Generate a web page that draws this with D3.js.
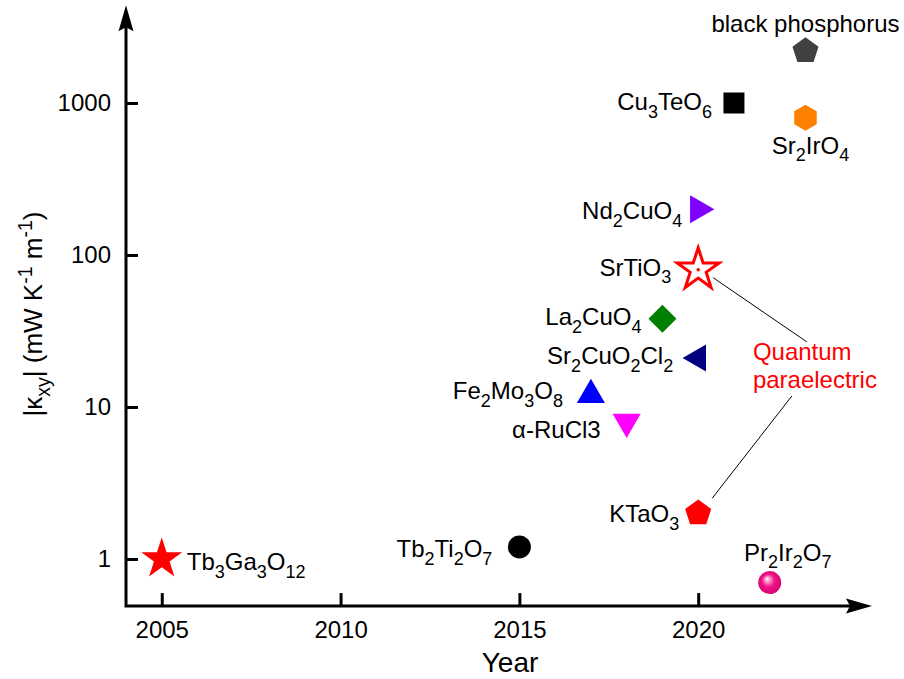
<!DOCTYPE html>
<html><head><meta charset="utf-8">
<script src="https://cdn.jsdelivr.net/npm/d3@7"></script>
<style>body{margin:0;background:#fff} svg{display:block}</style>
</head><body><svg id="c" width="904" height="679"></svg>
<script>
// ---- data ----
const materials = ["Tb_{3}Ga_{3}O_{12}", "Tb_{2}Ti_{2}O_{7}", "Pr_{2}Ir_{2}O_{7}", "KTaO_{3}", "α-RuCl3",
  "Fe_{2}Mo_{3}O_{8}", "Sr_{2}CuO_{2}Cl_{2}", "La_{2}CuO_{4}", "SrTiO_{3}", "Nd_{2}CuO_{4}",
  "Cu_{3}TeO_{6}", "Sr_{2}IrO_{4}", "black phosphorus"];
const years = [2005, 2015, 2022, 2020, 2018, 2017, 2020, 2019, 2020, 2020, 2021, 2023, 2023];
const kxy   = [1.0, 1.2, 0.7, 2.0, 8, 12, 21, 38, 80, 200, 1000, 800, 2200];
const xTicks = [2005, 2010, 2015, 2020];
const yTicks = [1, 10, 100, 1000];
const xTitle = "Year";
const yTitle = "|κ_{xy}| (mW K^{-1} m^{-1})";
const annotation = ["Quantum", "paraelectric"];

// ---- styles ----
const markerStyle = [
  {shape:"star", r:21.5, fill:"#ff0000"},
  {shape:"circle", r:11.5, fill:"#000000"},
  {shape:"sphere", r:11.5, fill:"url(#sphereGrad)"},
  {shape:"pentagon", r:13.7, fill:"#ff0000"},
  {shape:"triDown", r:16.2, fill:"#ff00ff"},
  {shape:"triUp", r:16.2, fill:"#0000ff"},
  {shape:"triLeft", r:15.6, fill:"#000080"},
  {shape:"diamond", r:14, fill:"#008000"},
  {shape:"star", r:22, fill:"#ffffff", stroke:"#ff0000", sw:3, dot:true},
  {shape:"triRight", r:16.2, fill:"#8000ff"},
  {shape:"square", r:10.5, fill:"#000000"},
  {shape:"hexagon", r:13, fill:"#ff8000"},
  {shape:"pentagon", r:13.7, fill:"#404040"}
];
const labelLayout = [
  {anchor:"start", dx:25, dy:11},
  {anchor:"end", dx:-27, dy:10},
  {anchor:"middle", dx:18, dy:-22},
  {anchor:"end", dx:-19, dy:9},
  {anchor:"end", dx:-26, dy:16},
  {anchor:"end", dx:-28, dy:4},
  {anchor:"end", dx:-25, dy:6},
  {anchor:"end", dx:-21, dy:6},
  {anchor:"end", dx:-27, dy:6},
  {anchor:"end", dx:-16, dy:10},
  {anchor:"end", dx:-22, dy:7},
  {anchor:"middle", dx:5, dy:36},
  {anchor:"middle", dx:0, dy:-19}
];

const FONT = "'Liberation Sans', Arial, sans-serif";
const svg = d3.select("#c");
const x = d3.scaleLinear().domain([2004, 2025]).range([126, 877]);
const y = d3.scaleLog().domain([1, 1000]).range([559, 103]);
const xMin = 2004, xMax = 2024.86, yMin = 0.49, yMax = 4400;

const defs = svg.append("defs");
const rg = defs.append("radialGradient").attr("id","sphereGrad")
  .attr("cx","0.5").attr("cy","0.5").attr("r","0.55").attr("fx","0.38").attr("fy","0.33");
rg.append("stop").attr("offset","0").attr("stop-color","#ffffff");
rg.append("stop").attr("offset","0.18").attr("stop-color","#ff9fd2");
rg.append("stop").attr("offset","0.5").attr("stop-color","#f01489");
rg.append("stop").attr("offset","1").attr("stop-color","#d6006f");

// rich text: _{sub} and ^{sup}
function richText(sel, str, size) {
  const parts = [];
  const re = /([_^])\{([^}]*)\}/g;
  let last = 0, m;
  while ((m = re.exec(str)) !== null) {
    if (m.index > last) parts.push({t: str.slice(last, m.index), k: "n"});
    parts.push({t: m[2], k: m[1] === "_" ? "sub" : "sup"});
    last = re.lastIndex;
  }
  if (last < str.length) parts.push({t: str.slice(last), k: "n"});
  let cur = 0;
  parts.forEach(p => {
    const target = p.k === "sub" ? size * 0.32 : p.k === "sup" ? -size * 0.4 : 0;
    const ts = sel.append("tspan").text(p.t).attr("dy", target - cur);
    if (p.k !== "n") ts.attr("font-size", size * 0.75);
    cur = target;
  });
}

// marker path generators
function poly(n, r, rot) {
  const pts = [];
  for (let i = 0; i < n; i++) {
    const a = rot + i * 2 * Math.PI / n;
    pts.push([r * Math.sin(a), -r * Math.cos(a)]);
  }
  return "M" + pts.map(p => p.join(",")).join("L") + "Z";
}
function starPath(r) {
  const ri = r * 0.382, pts = [];
  for (let i = 0; i < 10; i++) {
    const a = i * Math.PI / 5, rr = i % 2 ? ri : r;
    pts.push([rr * Math.sin(a), -rr * Math.cos(a)]);
  }
  return "M" + pts.map(p => p.join(",")).join("L") + "Z";
}
function shapePath(s) {
  const r = s.r;
  switch (s.shape) {
    case "star": return starPath(r);
    case "pentagon": return poly(5, r, 0);
    case "hexagon": return poly(6, r, 0);
    case "triUp": return poly(3, r, 0);
    case "triDown": return poly(3, r, Math.PI);
    case "triRight": return poly(3, r, Math.PI / 2);
    case "triLeft": return poly(3, r, -Math.PI / 2);
    case "diamond": return poly(4, r, 0);
    case "square": return `M${-r},${-r}H${r}V${r}H${-r}Z`;
    default: return `M${-r},0A${r},${r} 0 1,0 ${r},0A${r},${r} 0 1,0 ${-r},0Z`;
  }
}

// axes
const yAxis = d3.axisLeft(y).tickValues(yTicks).tickFormat(d3.format("d")).tickSize(-12).tickPadding(15);
const xAxis = d3.axisBottom(x).tickValues(xTicks).tickFormat(d3.format("d")).tickSize(-13).tickPadding(15);
const gy = svg.append("g").attr("transform", `translate(${x(xMin)},0)`).call(yAxis);
const gx = svg.append("g").attr("transform", `translate(0,${y(yMin)})`).call(xAxis);
[gx, gy].forEach(g => {
  g.select(".domain").remove();
  g.selectAll(".tick line").attr("stroke", "#000").attr("stroke-width", 3);
  g.selectAll(".tick text").attr("font-family", FONT).attr("font-size", 24).attr("fill", "#000");
});
gy.selectAll(".tick text").attr("dy", "0.33em");

const X0 = x(xMin), Y0 = y(yMin), X1 = x(xMax), Y1 = y(yMax);
svg.append("path").attr("d", `M${X0},${Y1 + 20}V${Y0}H${X1 - 18}`)
  .attr("fill", "none").attr("stroke", "#000").attr("stroke-width", 3).attr("stroke-linecap", "square");
svg.append("path").attr("d", `M${X1},${Y0}L${X1 - 26},${Y0 - 7.5}L${X1 - 22},${Y0}L${X1 - 26},${Y0 + 7.5}Z`).attr("fill", "#000");
svg.append("path").attr("d", `M${X0},${Y1}L${X0 - 7.5},${Y1 + 26}L${X0},${Y1 + 22}L${X0 + 7.5},${Y1 + 26}Z`).attr("fill", "#000");

// axis titles
svg.append("text").attr("x", 510).attr("y", 672).attr("text-anchor", "middle")
  .attr("font-family", FONT).attr("font-size", 28).text(xTitle);
const yt = svg.append("text").attr("transform", "translate(42,314) rotate(-90)").attr("text-anchor", "middle")
  .attr("font-family", FONT).attr("font-size", 26);
richText(yt, yTitle, 26);

// annotation connectors
const ax = x(2021.53), ay = y(20.4);
const iSTO = materials.indexOf("SrTiO_{3}"), iKTO = materials.indexOf("KTaO_{3}");
svg.append("line").attr("x1", x(years[iSTO]) + 15).attr("y1", y(kxy[iSTO]) + 8)
  .attr("x2", ax + 54).attr("y2", ay - 18).attr("stroke", "#000").attr("stroke-width", 1);
svg.append("line").attr("x1", ax + 39).attr("y1", ay + 36)
  .attr("x2", x(years[iKTO]) + 14).attr("y2", y(kxy[iKTO]) - 15).attr("stroke", "#000").attr("stroke-width", 1);
const at = svg.append("text").attr("font-family", FONT).attr("font-size", 24).attr("fill", "#ff0000");
annotation.forEach((t, i) => at.append("tspan").attr("x", ax).attr("y", ay + i * 28).text(t));

// markers
const pts = materials.map((m, i) => ({m, yr: years[i], v: kxy[i], s: markerStyle[i], l: labelLayout[i]}));
const g = svg.append("g");
pts.forEach(p => {
  const cx = x(p.yr), cy = y(p.v);
  g.append("path").attr("d", shapePath(p.s)).attr("transform", `translate(${cx},${cy})`)
    .attr("fill", p.s.fill).attr("stroke", p.s.stroke || "none").attr("stroke-width", p.s.sw || 0)
    .attr("stroke-linejoin", "miter").attr("stroke-miterlimit", 10);
  if (p.s.dot) g.append("circle").attr("cx", cx).attr("cy", cy).attr("r", 1.8).attr("fill", p.s.stroke);
  const t = svg.append("text").attr("x", cx + p.l.dx).attr("y", cy + p.l.dy)
    .attr("text-anchor", p.l.anchor).attr("font-family", FONT).attr("font-size", 24).attr("fill", "#000");
  richText(t, p.m, 24);
});
</script></body></html>
